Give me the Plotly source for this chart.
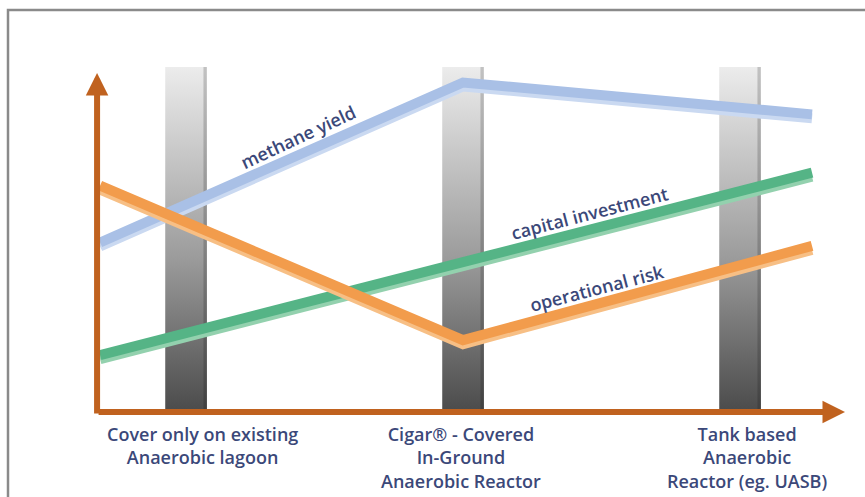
import plotly.graph_objects as go

# ---------------- data ----------------
categories = [
    ["Cover only on existing", "Anaerobic lagoon"],
    ["Cigar\u00ae - Covered", "In-Ground", "Anaerobic Reactor"],
    ["Tank based", "Anaerobic", "Reactor (eg. UASB)"],
]
series_names = ["methane yield", "capital investment", "operational risk"]
methane_yield = [5.0, 9.72, 8.78]
capital_investment = [1.68, 4.43, 7.06]
operational_risk = [6.68, 2.12, 4.90]

# ---------------- styles / layout constants ----------------
W, H = 865, 497
PX_PER_X = 277.0      # pixels per category step
X0_PX = 186.0         # pixel of first category
PX_PER_Y = 33.9
Y0_PX = 412.0

X_START, X_END = -0.31, 2.26       # line extents (category units)
AXIS_X = -0.321
X_ARROW_TIP = 2.379
Y_ARROW_TIP = 10.0
BAR_HALF = 0.075
BAR_TOP = 10.18

line_colors = {
    "methane yield": ("#a9c0e6", "#cad9f1"),
    "capital investment": ("#55b486", "#93d1ae"),
    "operational risk": ("#f29c4c", "#f7bf85"),
}
text_color = "#3b4879"
axis_color = "#c0621f"
FONT = "Open Sans"

series_values = {
    "methane yield": methane_yield,
    "capital investment": capital_investment,
    "operational risk": operational_risk,
}

fig = go.Figure()

# gradient bars
for i in range(len(categories)):
    xs = [i - BAR_HALF, i + BAR_HALF, i + BAR_HALF, i - BAR_HALF, i - BAR_HALF]
    ys = [0, 0, BAR_TOP, BAR_TOP, 0]
    fig.add_trace(go.Scatter(
        x=xs, y=ys, mode="lines", fill="toself", line=dict(width=0),
        fillgradient=dict(type="vertical",
                          colorscale=[[0, "#4b4b4b"], [0.45, "#9c9c9c"], [1, "#ececec"]]),
        hoverinfo="skip", showlegend=False))
    # darker right edge strip
    e0 = i + BAR_HALF - 0.012
    fig.add_trace(go.Scatter(
        x=[e0, i + BAR_HALF, i + BAR_HALF, e0, e0], y=ys, mode="lines", fill="toself",
        line=dict(width=0),
        fillgradient=dict(type="vertical",
                          colorscale=[[0, "#3f3f3f"], [0.45, "#808080"], [1, "#c2c2c2"]]),
        hoverinfo="skip", showlegend=False))

# lines (two-tone bands)
line_x = [X_START, 1, X_END]
for name in series_names:
    dark, light = line_colors[name]
    vals = series_values[name]
    off = 4 / PX_PER_Y
    fig.add_trace(go.Scatter(x=line_x, y=[v - off for v in vals], mode="lines",
                             line=dict(color=light, width=10), hoverinfo="skip",
                             showlegend=False))
    fig.add_trace(go.Scatter(x=line_x, y=vals, mode="lines", name=name,
                             line=dict(color=dark, width=10), showlegend=False))

# axis arrows
fig.add_annotation(x=X_ARROW_TIP, y=0, ax=AXIS_X, ay=0, xref="x", yref="y",
                   axref="x", ayref="y", showarrow=True, arrowhead=2, arrowsize=0.75,
                   arrowwidth=6, arrowcolor=axis_color, text="")
fig.add_annotation(x=AXIS_X, y=Y_ARROW_TIP, ax=AXIS_X, ay=-3 / PX_PER_Y, xref="x", yref="y",
                   axref="x", ayref="y", showarrow=True, arrowhead=2, arrowsize=0.75,
                   arrowwidth=6, arrowcolor=axis_color, text="")

# line labels
label_pos = {
    "methane yield": (0.404, 8.11, -25),
    "capital investment": (1.458, 5.87, -14.5),
    "operational risk": (1.484, 3.65, -14.5),
}
for name in series_names:
    lx, ly, ang = label_pos[name]
    fig.add_annotation(x=lx, y=ly, xref="x", yref="y", text=name, showarrow=False,
                       textangle=ang, font=dict(family=FONT, size=18, weight=600,
                                                color=text_color))

# category labels
label_dx = [0.058, -0.007, 0.025]
LABEL_TOP_PX = 420
for i, lines in enumerate(categories):
    fig.add_annotation(x=i + label_dx[i], y=(Y0_PX - LABEL_TOP_PX) / PX_PER_Y,
                       xref="x", yref="y", text="<br>".join(lines), showarrow=False,
                       yanchor="top", align="center",
                       font=dict(family=FONT, size=18, weight=600, color=text_color))

# frame
fig.add_shape(type="rect", xref="paper", yref="paper", x0=8 / W, x1=1.02,
              y0=-0.02, y1=1 - 10 / H, line=dict(color="#8a8a8a", width=2.5),
              layer="above")

fig.update_layout(
    width=W, height=H, margin=dict(l=0, r=0, t=0, b=0),
    paper_bgcolor="white", plot_bgcolor="white",
    xaxis=dict(range=[-X0_PX / PX_PER_X, (W - X0_PX) / PX_PER_X], visible=False,
               fixedrange=True),
    yaxis=dict(range=[(Y0_PX - H) / PX_PER_Y, Y0_PX / PX_PER_Y], visible=False,
               fixedrange=True),
)

fig.write_html("out.html", config={"displayModeBar": False},
               post_script="document.body.style.margin='0';")
